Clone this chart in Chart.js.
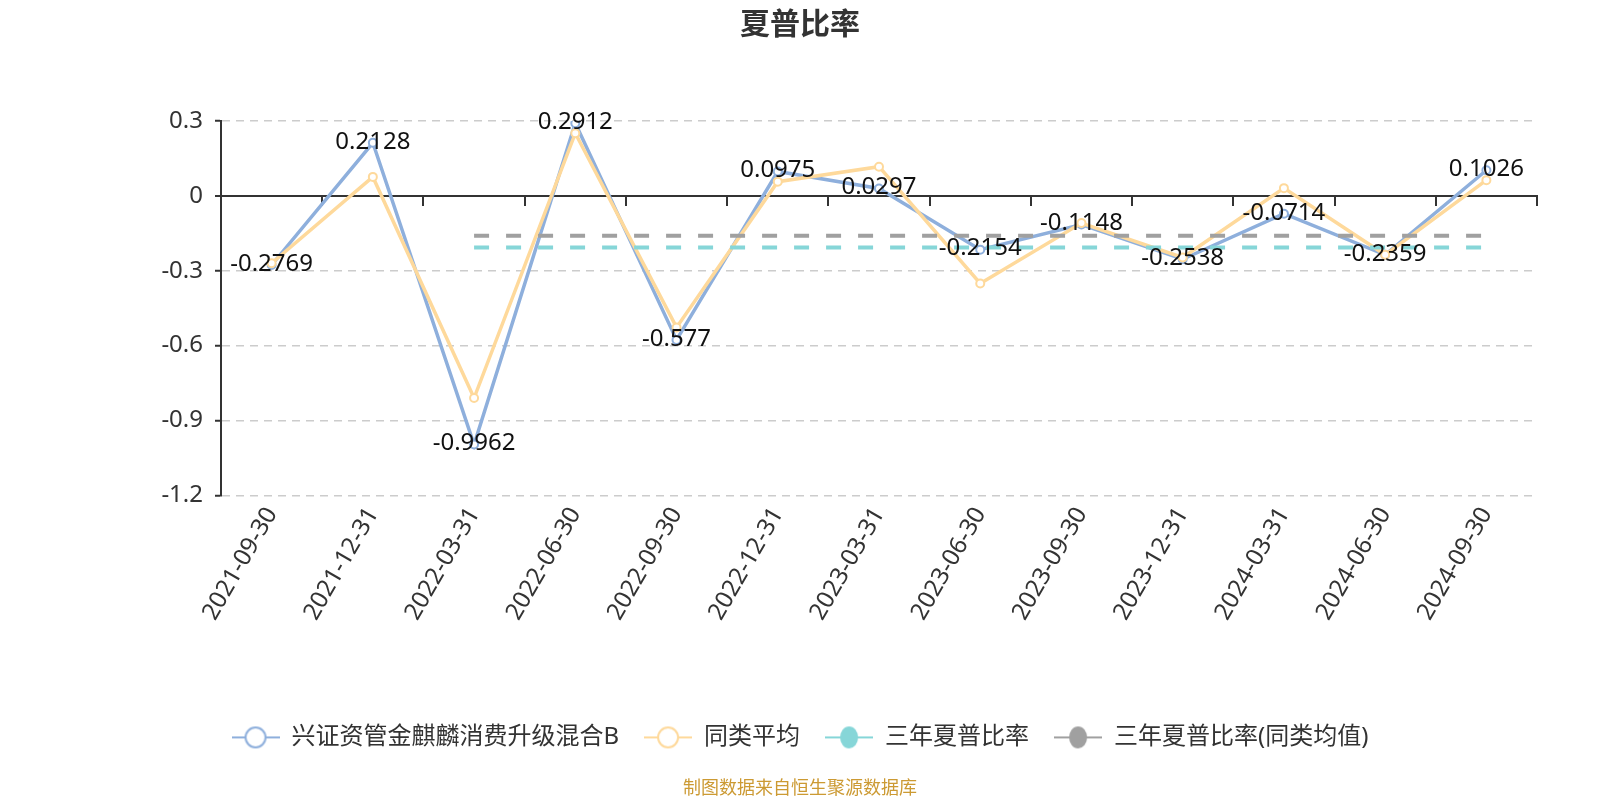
<!DOCTYPE html>
<html>
<head>
<meta charset="utf-8">
<script src="https://cdn.jsdelivr.net/npm/chart.js@4.4.1/dist/chart.umd.min.js"></script>
<style>
  body { margin: 0; background: #fff; }
  #wrap { width: 1600px; height: 800px; }
</style>
</head>
<body>
<div id="wrap"><canvas id="sharpeChart"></canvas></div>
<script>
const dates = ["2021-09-30", "2021-12-31", "2022-03-31", "2022-06-30", "2022-09-30", "2022-12-31",
  "2023-03-31", "2023-06-30", "2023-09-30", "2023-12-31", "2024-03-31", "2024-06-30", "2024-09-30"];
const fundSharpe = [-0.2769, 0.2128, -0.9962, 0.2912, -0.577, 0.0975, 0.0297, -0.2154, -0.1148, -0.2538, -0.0714, -0.2359, 0.1026];
const peerAvg = [-0.27, 0.076, -0.81, 0.251, -0.527, 0.057, 0.117, -0.351, -0.109, -0.247, 0.031, -0.236, 0.063];
const threeYear = [null, null, -0.207, -0.207, -0.207, -0.207, -0.207, -0.207, -0.207, -0.207, -0.207, -0.207, -0.207];
const threeYearPeer = [null, null, -0.16, -0.16, -0.16, -0.16, -0.16, -0.16, -0.16, -0.16, -0.16, -0.16, -0.16];
const yTicks = [-1.2, -0.9, -0.6, -0.3, 0, 0.3];
const seriesNames = ["兴证资管金麒麟消费升级混合B", "同类平均", "三年夏普比率", "三年夏普比率(同类均值)"];

const FONT = "'Noto Sans', 'Noto Sans CJK SC', sans-serif";
const colors = ["#8eafdc", "#fed99b", "#86d6d8", "#a0a0a0"];

// legend icon: a short line with a circle on it
function makeIcon(color, filled) {
  const c = document.createElement("canvas");
  c.width = 48; c.height = 26;
  const g = c.getContext("2d");
  g.strokeStyle = color;
  g.lineWidth = 2;
  g.beginPath(); g.moveTo(0, 13); g.lineTo(48, 13); g.stroke();
  g.beginPath();
  if (filled) {
    g.ellipse(24, 13, 9, 11, 0, 0, Math.PI * 2);
    g.fillStyle = color; g.fill();
  } else {
    g.arc(24, 13, 10, 0, Math.PI * 2);
    g.fillStyle = "#fff"; g.fill();
    g.stroke();
  }
  return c;
}
const icons = [makeIcon(colors[0], false), makeIcon(colors[1], false), makeIcon(colors[2], true), makeIcon(colors[3], true)];

const valueLabels = {
  id: "valueLabels",
  afterDatasetsDraw(chart) {
    const meta = chart.getDatasetMeta(0);
    const ctx = chart.ctx;
    ctx.save();
    ctx.font = "24px " + FONT;
    ctx.fillStyle = "#111";
    ctx.textAlign = "center";
    ctx.textBaseline = "middle";
    meta.data.forEach((pt, i) => {
      ctx.fillText(String(fundSharpe[i]), pt.x, pt.y - 1);
    });
    ctx.restore();
  }
};

const ctx = document.getElementById("sharpeChart").getContext("2d");
new Chart(ctx, {
  type: "line",
  data: {
    labels: dates,
    datasets: [
      {
        label: seriesNames[0], data: fundSharpe, borderColor: colors[0], backgroundColor: "#fff",
        borderWidth: 3.5, pointRadius: 4, pointBorderWidth: 2, pointBackgroundColor: "#fff", order: 4
      },
      {
        label: seriesNames[1], data: peerAvg, borderColor: colors[1], backgroundColor: "#fff",
        borderWidth: 3.5, pointRadius: 4, pointBorderWidth: 2, pointBackgroundColor: "#fff", order: 3
      },
      {
        label: seriesNames[2], data: threeYear, borderColor: colors[2], backgroundColor: colors[2],
        borderWidth: 4, borderDash: [15, 17], pointRadius: 0, order: 2
      },
      {
        label: seriesNames[3], data: threeYearPeer, borderColor: colors[3], backgroundColor: colors[3],
        borderWidth: 4, borderDash: [15, 17], pointRadius: 0, order: 1
      }
    ]
  },
  options: {
    responsive: true,
    maintainAspectRatio: false,
    animation: false,
    layout: { padding: 0 },
    scales: {
      x: {
        type: "category",
        offset: true,
        grid: { display: false, drawTicks: false },
        border: { display: false },
        ticks: {
          autoSkip: false, minRotation: 60, maxRotation: 60, padding: 7,
          color: "#333", font: { family: FONT, size: 24 }
        },
        afterFit(scale) { scale.height = 205; }
      },
      x2: {
        type: "category",
        position: { y: 0 },
        offset: true,
        grid: { drawOnChartArea: false, drawTicks: true, tickLength: 9, color: "#333", lineWidth: 2, offset: true },
        border: { color: "#333", width: 2 },
        ticks: { display: false }
      },
      y: {
        min: -1.2,
        max: 0.3,
        afterBuildTicks(scale) { scale.ticks = yTicks.map(v => ({ value: v })); },
        ticks: {
          padding: 12, color: "#333", font: { family: FONT, size: 24 },
          callback: (v) => String(v)
        },
        grid: {
          color: (c) => (c.tick && c.tick.value === 0 ? "#333" : "#cccccc"),
          lineWidth: (c) => (c.tick && c.tick.value === 0 ? 2 : 1.5),
          tickLength: 6,
          tickColor: "#333",
          tickWidth: 2
        },
        border: {
          color: "#333", width: 2,
          dash: (c) => (c.type === "tick" && c.tick.value !== 0 ? [8, 6] : [])
        },
        afterFit(scale) { scale.width = 221; }
      },
      // empty right-hand spacer so the title / legend stay centred on the page
      spacer: {
        position: "right",
        grid: { display: false },
        border: { display: false },
        ticks: { display: false },
        afterFit(scale) { scale.width = 63; }
      }
    },
    plugins: {
      title: {
        display: true, text: "夏普比率", color: "#333",
        font: { family: FONT, size: 30, weight: "bold" },
        padding: { top: 7, bottom: 78 }
      },
      subtitle: {
        display: true, position: "bottom", text: "制图数据来自恒生聚源数据库", color: "#cc9a33",
        font: { family: FONT, size: 18 },
        padding: { top: 19, bottom: 0 }
      },
      legend: {
        position: "bottom",
        labels: {
          usePointStyle: true,
          pointStyleWidth: 48,
          padding: 25,
          color: "#333",
          font: { family: FONT, size: 24 },
          generateLabels(chart) {
            return chart.data.datasets.map((ds, i) => ({
              text: ds.label, pointStyle: icons[i], fontColor: "#333",
              datasetIndex: i, hidden: false, lineWidth: 0, strokeStyle: "transparent", fillStyle: "transparent"
            }));
          }
        }
      },
      tooltip: { enabled: false }
    }
  },
  plugins: [valueLabels]
});
</script>
</body>
</html>
